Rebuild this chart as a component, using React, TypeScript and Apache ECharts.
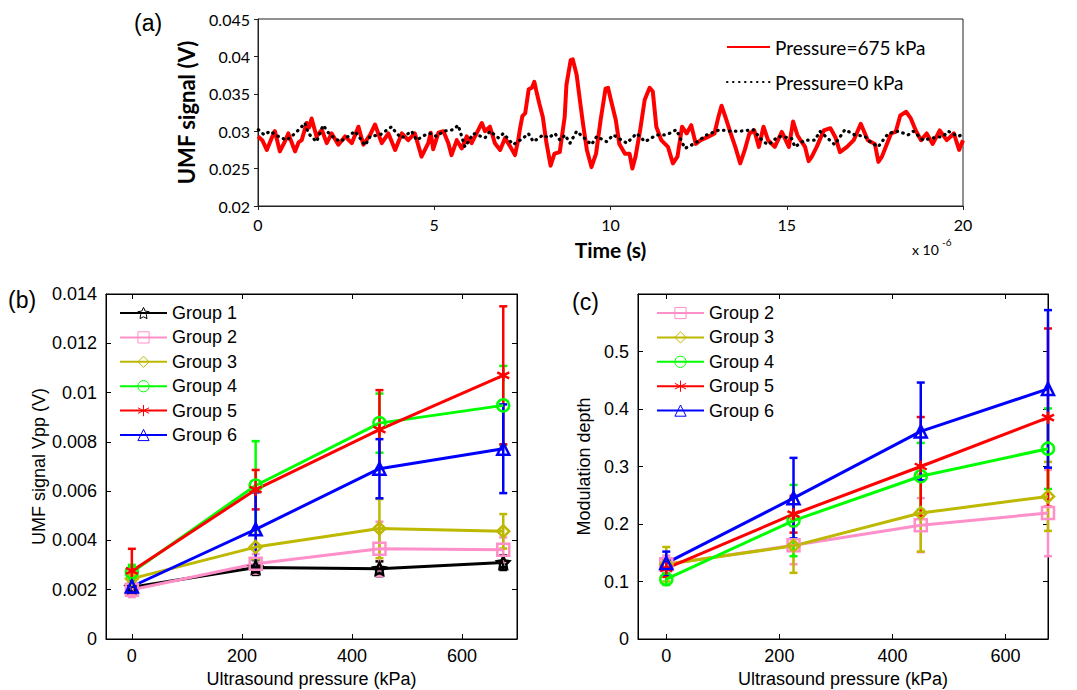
import React, { useEffect, useRef } from "react";
import * as echarts from "echarts";

// ---------- Panel (a): UMF signal vs time (x 1e-6 s) ----------
const redTime = [
  0.0, 0.12, 0.25, 0.38, 0.48, 0.62, 0.75, 0.86, 1.05, 1.15, 1.24, 1.38, 1.45, 1.52, 1.66, 1.81, 1.95, 2.09,
  2.28, 2.47, 2.66, 2.85, 2.99, 3.18, 3.32, 3.51, 3.7, 3.89, 4.08, 4.26, 4.45, 4.64, 4.83, 4.9, 4.97, 5.12,
  5.26, 5.4, 5.49, 5.64, 5.78, 5.92, 6.06, 6.2, 6.35, 6.44, 6.58, 6.72, 6.87, 7.01, 7.15, 7.29, 7.39, 7.42,
  7.5, 7.58, 7.68, 7.77, 7.84, 7.9, 7.98, 8.08, 8.17, 8.3, 8.41, 8.56, 8.7, 8.75, 8.87, 8.93, 9.04, 9.13,
  9.22, 9.33, 9.46, 9.59, 9.72, 9.86, 9.93, 10.01, 10.15, 10.25, 10.41, 10.54, 10.62, 10.71, 10.84, 10.97,
  11.11, 11.2, 11.3, 11.44, 11.63, 11.77, 11.9, 12.03, 12.16, 12.29, 12.42, 12.56, 12.75, 12.95, 13.06,
  13.15, 13.26, 13.41, 13.54, 13.68, 13.81, 13.94, 14.08, 14.21, 14.34, 14.47, 14.66, 14.86, 15.06, 15.18,
  15.3, 15.39, 15.52, 15.62, 15.7, 15.85, 16.05, 16.24, 16.38, 16.51, 16.71, 16.9, 17.1, 17.3, 17.5, 17.6,
  17.7, 17.96, 18.09, 18.22, 18.39, 18.52, 18.66, 18.81, 18.97, 19.14, 19.34, 19.54, 19.74, 19.89, 20.0,
];
const redVolt = [
  0.0293, 0.0288, 0.0275, 0.029, 0.03, 0.0273, 0.0285, 0.0297, 0.0273, 0.0285, 0.0288, 0.0311, 0.0305, 0.0317,
  0.0293, 0.0302, 0.0284, 0.0297, 0.0282, 0.0293, 0.0284, 0.0306, 0.0282, 0.0295, 0.0309, 0.0284, 0.0297,
  0.0275, 0.0297, 0.0288, 0.0297, 0.0266, 0.0284, 0.0298, 0.0276, 0.0298, 0.03, 0.0284, 0.0268, 0.0288,
  0.0277, 0.0293, 0.0284, 0.0297, 0.0311, 0.03, 0.0306, 0.0284, 0.0275, 0.0291, 0.028, 0.0268, 0.029, 0.03,
  0.032, 0.0324, 0.0356, 0.0358, 0.0366, 0.0353, 0.0337, 0.0319, 0.0288, 0.0254, 0.027, 0.0272, 0.0319,
  0.0362, 0.0395, 0.0396, 0.0375, 0.0342, 0.031, 0.0275, 0.0252, 0.027, 0.0315, 0.0357, 0.0358, 0.0342,
  0.0315, 0.0283, 0.027, 0.027, 0.025, 0.0266, 0.0301, 0.0342, 0.0358, 0.0353, 0.0306, 0.0288, 0.0279,
  0.0257, 0.0266, 0.0306, 0.0297, 0.0308, 0.0283, 0.0288, 0.0292, 0.0297, 0.0319, 0.0334, 0.0319, 0.0297,
  0.0279, 0.0257, 0.0275, 0.0297, 0.0301, 0.0279, 0.0306, 0.0288, 0.0279, 0.0299, 0.0279, 0.0313, 0.0295,
  0.0288, 0.0279, 0.026, 0.0265, 0.0279, 0.0301, 0.0304, 0.0292, 0.0272, 0.0279, 0.0288, 0.031, 0.0288,
  0.0283, 0.0259, 0.0266, 0.0297, 0.0299, 0.0321, 0.0326, 0.0317, 0.0301, 0.0288, 0.0297, 0.0283, 0.0301,
  0.0288, 0.0297, 0.0275, 0.0288,
];
const blackTime = [
  0.01, 0.18, 0.34, 0.58, 0.81, 1.05, 1.24, 1.33, 1.43, 1.66, 1.85, 2.04, 2.33, 2.56, 2.75, 3.04, 3.18, 3.46,
  3.79, 3.93, 4.08, 4.36, 4.5, 4.74, 4.88, 5.07, 5.26, 5.54, 5.68, 5.87, 6.11, 6.44, 6.58, 6.82, 6.96, 7.24,
  7.53, 7.67, 7.81, 8.09, 8.24, 8.42, 8.57, 8.71, 8.85, 9.04, 9.32, 9.46, 9.61, 9.89, 10.08, 10.46, 10.74,
  10.98, 11.31, 11.59, 11.87, 12.11, 12.4, 12.73, 13.1, 13.39, 13.67, 14.05, 14.33, 14.48, 14.76, 15.13,
  15.23, 15.51, 15.8, 15.94, 16.22, 16.36, 16.65, 16.93, 17.22, 17.36, 17.59, 17.88, 18.16, 18.44, 18.59,
  18.87, 19.15, 19.44, 19.58, 19.86, 20.0,
];
const blackVolt = [
  0.0302, 0.0295, 0.03, 0.0293, 0.0288, 0.0297, 0.0306, 0.0311, 0.0297, 0.0286, 0.0308, 0.0295, 0.0286, 0.0293,
  0.03, 0.0281, 0.0293, 0.0295, 0.0306, 0.0297, 0.0291, 0.03, 0.0288, 0.0295, 0.0297, 0.0293, 0.03, 0.0302,
  0.0308, 0.0279, 0.0297, 0.0291, 0.03, 0.0291, 0.0297, 0.0282, 0.0291, 0.0297, 0.0286, 0.0295, 0.0291,
  0.0297, 0.0288, 0.0295, 0.0284, 0.03, 0.0288, 0.0282, 0.0293, 0.0286, 0.0295, 0.0284, 0.0297, 0.0286,
  0.0295, 0.0295, 0.0302, 0.0277, 0.0284, 0.0295, 0.0302, 0.03, 0.03, 0.0302, 0.0286, 0.0282, 0.0293,
  0.0291, 0.0279, 0.0288, 0.0288, 0.03, 0.0288, 0.0282, 0.0302, 0.0295, 0.0293, 0.0286, 0.0279, 0.0297,
  0.03, 0.0295, 0.03, 0.0288, 0.0291, 0.0293, 0.03, 0.0293, 0.0296,
];

// ---------- Panels (b) and (c) ----------
const pressure = [0, 225, 450, 675];
const pressureTicks = [0, 200, 400, 600];

// (b) UMF signal Vpp (V): mean and +/- error
const vppG1 = [0.0021, 0.0029, 0.00285, 0.0031];
const vppErrG1 = [0.0002, 0.0003, 0.0003, 0.0003];
const vppG2 = [0.002, 0.00305, 0.00366, 0.00362];
const vppErrG2 = [0.0003, 0.0004, 0.0011, 0.0005];
const vppG3 = [0.00245, 0.00373, 0.00448, 0.00437];
const vppErrG3 = [0.0002, 0.0005, 0.0012, 0.0007];
const vppG4 = [0.00271, 0.00623, 0.00876, 0.00948];
const vppErrG4 = [0.0003, 0.0018, 0.0012, 0.0016];
const vppG5 = [0.00276, 0.00606, 0.0085, 0.0107];
const vppErrG5 = [0.0009, 0.0008, 0.0016, 0.0028];
const vppG6 = [0.00213, 0.00445, 0.00691, 0.00772];
const vppErrG6 = [0.0002, 0.0015, 0.0012, 0.0018];

// (c) Modulation depth: mean and +/- error
const modG2 = [0.13, 0.163, 0.198, 0.219];
const modErrG2 = [0.015, 0.033, 0.047, 0.075];
const modG3 = [0.13, 0.162, 0.219, 0.248];
const modErrG3 = [0.03, 0.047, 0.067, 0.06];
const modG4 = [0.104, 0.206, 0.283, 0.331];
const modErrG4 = [0.01, 0.062, 0.058, 0.07];
const modG5 = [0.123, 0.217, 0.3, 0.385];
const modErrG5 = [0.015, 0.032, 0.086, 0.155];
const modG6 = [0.132, 0.245, 0.361, 0.435];
const modErrG6 = [0.02, 0.07, 0.085, 0.137];

// ---------- styles ----------
const SANS = "'Liberation Sans', Arial, sans-serif";
const CAL = "Lato, 'Open Sans', sans-serif";
const STAR =
  "path://M0,-10L2.94,-4.05L9.51,-3.09L4.76,1.55L5.88,8.09L0,5.2L-5.88,8.09L-4.76,1.55L-9.51,-3.09L-2.94,-4.05Z";
const ASTER = "path://M0,-10L0,10M-8.66,-5L8.66,5M-8.66,5L8.66,-5";
const groupStyle: Record<string, { color: string; symbol: string }> = {
  "Group 1": { color: "#000000", symbol: STAR },
  "Group 2": { color: "#ff8fc8", symbol: "rect" },
  "Group 3": { color: "#bdb800", symbol: "diamond" },
  "Group 4": { color: "#00ff00", symbol: "circle" },
  "Group 5": { color: "#ff0000", symbol: ASTER },
  "Group 6": { color: "#0000ff", symbol: "triangle" },
};

function errRender(color: string) {
  return (params: any, api: any) => {
    const x = api.value(0);
    const lo = api.coord([x, api.value(1)]);
    const hi = api.coord([x, api.value(2)]);
    const hw = 4;
    const st = { stroke: color, lineWidth: 2.5 };
    return {
      type: "group",
      children: [
        { type: "line", shape: { x1: lo[0], y1: lo[1], x2: hi[0], y2: hi[1] }, style: st },
        { type: "line", shape: { x1: lo[0] - hw, y1: lo[1], x2: lo[0] + hw, y2: lo[1] }, style: st },
        { type: "line", shape: { x1: hi[0] - hw, y1: hi[1], x2: hi[0] + hw, y2: hi[1] }, style: st },
      ],
    };
  };
}

function groupSeries(name: string, vals: number[], errs: number[], axis: number) {
  const s = groupStyle[name];
  return [
    {
      type: "custom",
      xAxisIndex: axis,
      yAxisIndex: axis,
      silent: true,
      data: pressure.map((p, i) => [p, vals[i] - errs[i], vals[i] + errs[i]]),
      encode: { x: 0, y: [1, 2] },
      renderItem: errRender(s.color),
      clip: false,
    },
    {
      type: "line",
      name,
      xAxisIndex: axis,
      yAxisIndex: axis,
      data: pressure.map((p, i) => [p, vals[i]]),
      symbol: s.symbol,
      symbolSize: 12,
      showAllSymbol: true,
      lineStyle: { color: s.color, width: 3 },
      itemStyle: { color: "rgba(255,255,255,0)", borderColor: s.color, borderWidth: 2.5 },
      emphasis: { disabled: true },
      clip: false,
    },
  ];
}

const fmt = (v: number) => String(parseFloat(v.toFixed(4)));

function matlabX(grid: number, min: number, max: number, bottom: boolean, name?: string) {
  return {
    gridIndex: grid,
    type: "value",
    position: bottom ? "bottom" : "top",
    min,
    max,
    axisLine: { show: true, onZero: false, lineStyle: { color: "#000", width: 1 } },
    axisTick: { show: true, inside: true, length: 5, customValues: pressureTicks, lineStyle: { color: "#000" } },
    axisLabel: bottom
      ? { show: true, customValues: pressureTicks, color: "#000", fontSize: 18, fontFamily: SANS, margin: 8 }
      : { show: false },
    splitLine: { show: false },
    name: bottom ? name : undefined,
    nameLocation: "middle",
    nameGap: 31,
    nameTextStyle: { color: "#000", fontSize: 18, fontFamily: SANS },
  };
}

function matlabY(grid: number, max: number, interval: number, left: boolean, name?: string, gap?: number) {
  return {
    gridIndex: grid,
    type: "value",
    position: left ? "left" : "right",
    min: 0,
    max,
    interval,
    axisLine: { show: true, onZero: false, lineStyle: { color: "#000", width: 1 } },
    axisTick: { show: true, inside: true, length: 5, lineStyle: { color: "#000" } },
    axisLabel: left
      ? { show: true, color: "#000", fontSize: 18, fontFamily: SANS, margin: 9, formatter: fmt, showMaxLabel: max === 0.014 }
      : { show: false },
    splitLine: { show: false },
    name: left ? name : undefined,
    nameLocation: "middle",
    nameGap: gap,
    nameTextStyle: { color: "#000", fontSize: 18, fontFamily: SANS },
  };
}

export default function App() {
  const ref = useRef<HTMLDivElement>(null);
  useEffect(() => {
    if (!ref.current) return;
    const chart = echarts.init(ref.current, undefined, { renderer: "svg" });
    const series: any[] = [
      {
        type: "line",
        name: "Pressure=675 kPa",
        xAxisIndex: 0,
        yAxisIndex: 0,
        data: redTime.map((t, i) => [t, redVolt[i]]),
        symbol: "none",
        lineStyle: { color: "#ff0000", width: 4, join: "round" },
        itemStyle: { color: "#ff0000" },
        emphasis: { disabled: true },
      },
      {
        type: "line",
        name: "Pressure=0 kPa",
        xAxisIndex: 0,
        yAxisIndex: 0,
        data: blackTime.map((t, i) => [t, blackVolt[i]]),
        symbol: "none",
        lineStyle: { color: "#000", width: 3.2, type: [0.5, 5.5], cap: "round" },
        itemStyle: { color: "#000" },
        emphasis: { disabled: true },
      },
      ...groupSeries("Group 1", vppG1, vppErrG1, 1),
      ...groupSeries("Group 2", vppG2, vppErrG2, 1),
      ...groupSeries("Group 3", vppG3, vppErrG3, 1),
      ...groupSeries("Group 4", vppG4, vppErrG4, 1),
      ...groupSeries("Group 5", vppG5, vppErrG5, 1),
      ...groupSeries("Group 6", vppG6, vppErrG6, 1),
      ...groupSeries("Group 2", modG2, modErrG2, 2),
      ...groupSeries("Group 3", modG3, modErrG3, 2),
      ...groupSeries("Group 4", modG4, modErrG4, 2),
      ...groupSeries("Group 5", modG5, modErrG5, 2),
      ...groupSeries("Group 6", modG6, modErrG6, 2),
    ];
    const legendText = { color: "#000", fontSize: 18, fontFamily: SANS, lineHeight: 20 };
    chart.setOption({
      animation: false,
      backgroundColor: "#ffffff",
      grid: [
        { left: 258, top: 19, width: 705, height: 187, show: true, borderColor: "#222", borderWidth: 1, outerBoundsMode: "none" },
        { left: 106, top: 294, width: 411, height: 345, show: true, borderColor: "#000", borderWidth: 1, outerBoundsMode: "none" },
        { left: 638, top: 294, width: 410, height: 345, show: true, borderColor: "#000", borderWidth: 1, outerBoundsMode: "none" },
      ],
      xAxis: [
        {
          gridIndex: 0,
          type: "value",
          min: 0,
          max: 20,
          interval: 5,
          axisLine: { show: true, onZero: false, lineStyle: { color: "#222" } },
          axisTick: { show: true, length: 4, lineStyle: { color: "#222" } },
          axisLabel: { color: "#000", fontSize: 16, fontFamily: CAL, margin: 10 },
          splitLine: { show: false },
          name: "Time (s)",
          nameLocation: "middle",
          nameGap: 33,
          nameTextStyle: { color: "#000", fontSize: 21, fontWeight: "bold", fontFamily: CAL },
        },
        matlabX(1, -47, 700, true, "Ultrasound pressure (kPa)"),
        matlabX(2, -50, 675, true, "Ultrasound pressure (kPa)"),
        matlabX(1, -47, 700, false),
        matlabX(2, -50, 675, false),
      ],
      yAxis: [
        {
          gridIndex: 0,
          type: "value",
          min: 0.02,
          max: 0.045,
          interval: 0.005,
          axisLine: { show: true, onZero: false, lineStyle: { color: "#222" } },
          axisTick: { show: true, length: 4, lineStyle: { color: "#222" } },
          axisLabel: { color: "#000", fontSize: 16, fontFamily: CAL, margin: 8, formatter: fmt },
          splitLine: { show: false },
          name: "UMF signal (V)",
          nameLocation: "middle",
          nameGap: 61,
          nameTextStyle: { color: "#000", fontSize: 22, fontWeight: "bold", fontFamily: CAL },
        },
        matlabY(1, 0.014, 0.002, true, "UMF signal Vpp (V)", 55),
        matlabY(2, 0.6, 0.1, true, "Modulation depth", 45),
        matlabY(1, 0.014, 0.002, false),
        matlabY(2, 0.6, 0.1, false),
      ],
      legend: [
        {
          orient: "vertical",
          left: 726,
          top: 36,
          padding: 0,
          itemWidth: 43,
          itemHeight: 12,
          itemGap: 13,
          selectedMode: false,
          data: ["Pressure=675 kPa", "Pressure=0 kPa"],
          itemStyle: { color: "rgba(0,0,0,0)", borderColor: "rgba(0,0,0,0)", borderWidth: 0 },
          textStyle: { color: "#000", fontSize: 19, fontFamily: CAL, lineHeight: 22 },
        },
        {
          orient: "vertical",
          left: 119,
          top: 303,
          padding: 0,
          itemWidth: 47,
          itemHeight: 14,
          itemGap: 4.4,
          selectedMode: false,
          data: ["Group 1", "Group 2", "Group 3", "Group 4", "Group 5", "Group 6"],
          itemStyle: { borderWidth: 1 },
          textStyle: legendText,
        },
        {
          orient: "vertical",
          left: 656,
          top: 303,
          padding: 0,
          itemWidth: 47,
          itemHeight: 14,
          itemGap: 4.4,
          selectedMode: false,
          data: ["Group 2", "Group 3", "Group 4", "Group 5", "Group 6"],
          itemStyle: { borderWidth: 1 },
          textStyle: legendText,
        },
      ],
      graphic: [
        { type: "text", left: 134, top: 11, style: { text: "(a)", fontSize: 23, fontFamily: SANS, fill: "#000" } },
        { type: "text", left: 8, top: 288, style: { text: "(b)", fontSize: 23, fontFamily: SANS, fill: "#000" } },
        { type: "text", left: 572, top: 290, style: { text: "(c)", fontSize: 23, fontFamily: SANS, fill: "#000" } },
        { type: "text", left: 912, top: 242, style: { text: "x 10", fontSize: 14, fontFamily: CAL, fill: "#000" } },
        { type: "text", left: 942, top: 237, style: { text: "-6", fontSize: 10, fontFamily: CAL, fill: "#000" } },
      ],
      series,
    });
    return () => chart.dispose();
  }, []);
  return (
    <div
      ref={ref}
      style={{ position: "fixed", left: 0, top: 0, width: 1077, height: 690, background: "#fff" }}
    />
  );
}
